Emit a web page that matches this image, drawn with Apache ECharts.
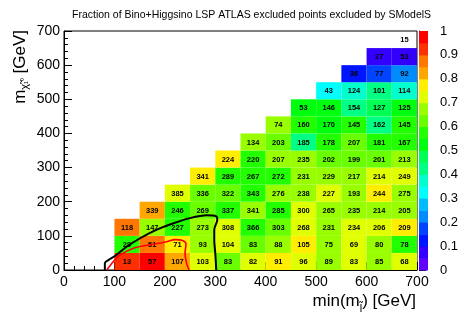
<!DOCTYPE html>
<html><head><meta charset="utf-8">
<script src="https://cdn.jsdelivr.net/npm/echarts@6/dist/echarts.min.js"></script>
<style>html,body{margin:0;padding:0;background:#fff}#c{width:463px;height:314px}</style>
</head><body><div id="c"></div>
<script>
// ---- data ----
const titleText = 'Fraction of Bino+Higgsino LSP ATLAS excluded points excluded by SModelS';
const xTicks = [0, 100, 200, 300, 400, 500, 600, 700];
const yTicks = [0, 100, 200, 300, 400, 500, 600, 700];
const zTicks = [0, 0.1, 0.2, 0.3, 0.4, 0.5, 0.6, 0.7, 0.8, 0.9, 1];
// lower y edge of each row and lower x edge of its first cell
const rowY     = [0, 50, 100, 150, 200, 250, 300, 350, 400, 450, 500, 550, 600, 650];
const rowXStart= [100, 100, 100, 150, 200, 250, 300, 350, 400, 450, 500, 550, 600, 650];
// number of points per cell (text)
const counts = [
  [13, 57, 107, 103, 83, 82, 91, 96, 89, 83, 85, 68],
  [29, 51, 71, 93, 104, 83, 88, 105, 75, 69, 80, 78],
  [118, 147, 227, 273, 308, 366, 303, 268, 231, 234, 206, 209],
  [339, 246, 269, 337, 341, 285, 300, 265, 235, 214, 205],
  [385, 336, 322, 343, 276, 238, 227, 193, 244, 275],
  [341, 289, 267, 272, 231, 229, 217, 214, 249],
  [224, 220, 207, 235, 202, 199, 201, 213],
  [134, 203, 185, 178, 207, 181, 167],
  [74, 160, 170, 145, 162, 145],
  [53, 146, 154, 127, 125],
  [43, 124, 101, 114],
  [36, 77, 92],
  [27, 53],
  [15]
];
// excluded fraction per cell (colour)
const fractions = [
  [0.925, 0.975, 0.825, 0.725, 0.625, 0.725, 0.775, 0.725, 0.675, 0.725, 0.675, 0.725],
  [0.575, 0.875, 0.775, 0.675, 0.725, 0.625, 0.675, 0.775, 0.675, 0.725, 0.675, 0.575],
  [0.875, 0.675, 0.575, 0.675, 0.725, 0.575, 0.625, 0.725, 0.675, 0.725, 0.725, 0.775],
  [0.825, 0.575, 0.625, 0.575, 0.675, 0.575, 0.725, 0.675, 0.675, 0.675, 0.675],
  [0.725, 0.625, 0.625, 0.575, 0.675, 0.675, 0.725, 0.675, 0.775, 0.675],
  [0.775, 0.575, 0.575, 0.575, 0.675, 0.675, 0.675, 0.725, 0.725],
  [0.775, 0.575, 0.675, 0.675, 0.625, 0.625, 0.625, 0.675],
  [0.675, 0.625, 0.425, 0.575, 0.625, 0.575, 0.575],
  [0.675, 0.575, 0.525, 0.575, 0.425, 0.575],
  [0.525, 0.525, 0.425, 0.475, 0.525],
  [0.325, 0.375, 0.425, 0.375],
  [0.125, 0.175, 0.225],
  [0.075, 0.075],
  [0]
];
const blackContour = [[81,0],[81,20],[88,29],[101,41],[124,68],[151,93],[184,118],[217,137],[250,152],[283,160],[302,157],[304,147],[298,118],[298,88],[300,49],[302,0]];
const redContour = [[85,0],[95,20],[111,44],[138,64],[171,74],[204,83],[220,89],[234,87],[242,76],[240,49],[243,20],[248,0]];
// palette levels (ROOT pretty palette, 20 contours)
const levelEdges = [0,0.05,0.1,0.15,0.2,0.25,0.3,0.35,0.4,0.45,0.5,0.55,0.6,0.65,0.7,0.75,0.8,0.85,0.9,0.95,1];
const paletteColors = ['#6200ff','#3300ff','#0015ff','#0044ff','#008bff','#00bbff','#00fffc','#00ffcc','#00ff85','#00ff55','#00ff0e','#22ff00','#69ff00','#99ff00','#e0ff00','#ffee00','#ffa700','#ff7700','#ff3000','#ff0000'];

// ---- build ----
const cellW = 50, cellH = 50;
const FONT = '"Liberation Sans", Arial, sans-serif';
const cells = [];
counts.forEach((row, r) => row.forEach((n, c) => {
  cells.push([rowXStart[r] + c * cellW, rowY[r], fractions[r][c], n]);
}));
const bands = paletteColors.map((col, i) => [levelEdges[i], levelEdges[i + 1], i]);

function colorFor(f) {
  for (let i = 0; i < paletteColors.length; i++) if (f < levelEdges[i + 1]) return paletteColors[i];
  return paletteColors[paletteColors.length - 1];
}

function renderCell(params, api) {
  const x0 = api.value(0), y0 = api.value(1), f = api.value(2), n = api.value(3);
  const p0 = api.coord([x0, y0]), p1 = api.coord([x0 + cellW, y0 + cellH]);
  const rect = { x: p0[0], y: p1[1], width: p1[0] - p0[0], height: p0[1] - p1[1] };
  const children = [];
  if (f > 0) children.push({ type: 'rect', shape: rect, style: { fill: colorFor(f) } });
  children.push({ type: 'text', style: { text: String(n), x: rect.x + rect.width / 2, y: rect.y + rect.height / 2 + 0.5,
    align: 'center', verticalAlign: 'middle', font: 'bold 7.5px ' + FONT, fill: '#000' } });
  return { type: 'group', children };
}
function renderBand(params, api) {
  const lo = api.value(0), hi = api.value(1), i = api.value(2);
  const p0 = api.coord([0, lo]), p1 = api.coord([1, hi]);
  return { type: 'rect', shape: { x: p0[0], y: p1[1], width: p1[0] - p0[0], height: p0[1] - p1[1] + 0.5 },
    style: { fill: paletteColors[i] } };
}

const chart = echarts.init(document.getElementById('c'), null, { renderer: 'canvas' });
const axisCommon = {
  type: 'value', min: 0, max: 700, interval: 100,
  axisLine: { show: true, lineStyle: { color: '#000', width: 1 } },
  axisTick: { show: true, inside: true, length: 8, lineStyle: { color: '#000' } },
  minorTick: { show: true, splitNumber: 5, length: 4, lineStyle: { color: '#000' } },
  splitLine: { show: false },
  axisLabel: { color: '#000', fontSize: 14, fontFamily: FONT }
};
chart.setOption({
  animation: false,
  title: { text: titleText, left: 67, top: 5, textStyle: { fontSize: 10.5, fontWeight: 'normal', color: '#000', fontFamily: FONT } },
  grid: [
    { left: 64, top: 31, width: 353, height: 239, show: true, borderColor: '#000', borderWidth: 1, backgroundColor: 'transparent' },
    { left: 419, top: 31, width: 9, height: 239 }
  ],
  xAxis: [
    Object.assign({}, axisCommon, { gridIndex: 0, axisLabel: Object.assign({}, axisCommon.axisLabel, { margin: 5 }) }),
    { gridIndex: 1, type: 'value', min: 0, max: 1, show: false }
  ],
  yAxis: [
    Object.assign({}, axisCommon, { gridIndex: 0, axisLabel: Object.assign({}, axisCommon.axisLabel, { margin: 4 }) }),
    { gridIndex: 1, type: 'value', min: 0, max: 1, interval: 0.1, position: 'right',
      axisLine: { show: true, lineStyle: { color: '#000' } },
      axisTick: { show: true, inside: false, length: 7, lineStyle: { color: '#000' } },
      splitLine: { show: false },
      axisLabel: { color: '#000', fontSize: 13, fontFamily: FONT, margin: 12 } }
  ],
  graphic: [
    { type: 'text', x: 416, y: 289, style: { text: 'min(m{s|l\u0303}) [GeV]', align: 'right', verticalAlign: 'top',
      font: '17px ' + FONT, fill: '#000', rich: { s: { fontSize: 11, fontFamily: FONT, padding: [14, 0, 0, 0], verticalAlign: 'top' } } } },
    { type: 'text', x: 20, y: 30, rotation: Math.PI / 2, style: { text: 'm{s|\u03c7\u0303}{t|\u2081\u2070} [GeV]', align: 'right', verticalAlign: 'middle',
      font: '17px ' + FONT, fill: '#000', rich: { s: { fontSize: 11, fontFamily: FONT, padding: [10, 0, 0, 0] }, t: { fontSize: 8, fontFamily: FONT, padding: [10, 0, 0, 0] } } } }
  ],
  series: [
    { type: 'custom', xAxisIndex: 0, yAxisIndex: 0, renderItem: renderCell, data: cells, encode: { x: 0, y: 1 }, clip: true, z: 2 },
    { type: 'line', xAxisIndex: 0, yAxisIndex: 0, data: blackContour, showSymbol: false, smooth: 0.3, z: 5,
      lineStyle: { color: '#000', width: 2 } },
    { type: 'line', xAxisIndex: 0, yAxisIndex: 0, data: redContour, showSymbol: false, smooth: 0.3, z: 5,
      lineStyle: { color: '#ff0000', width: 1.6 } },
    { type: 'custom', xAxisIndex: 1, yAxisIndex: 1, renderItem: renderBand, data: bands, encode: { y: [0, 1] }, z: 2 }
  ]
});
</script>
</body></html>
